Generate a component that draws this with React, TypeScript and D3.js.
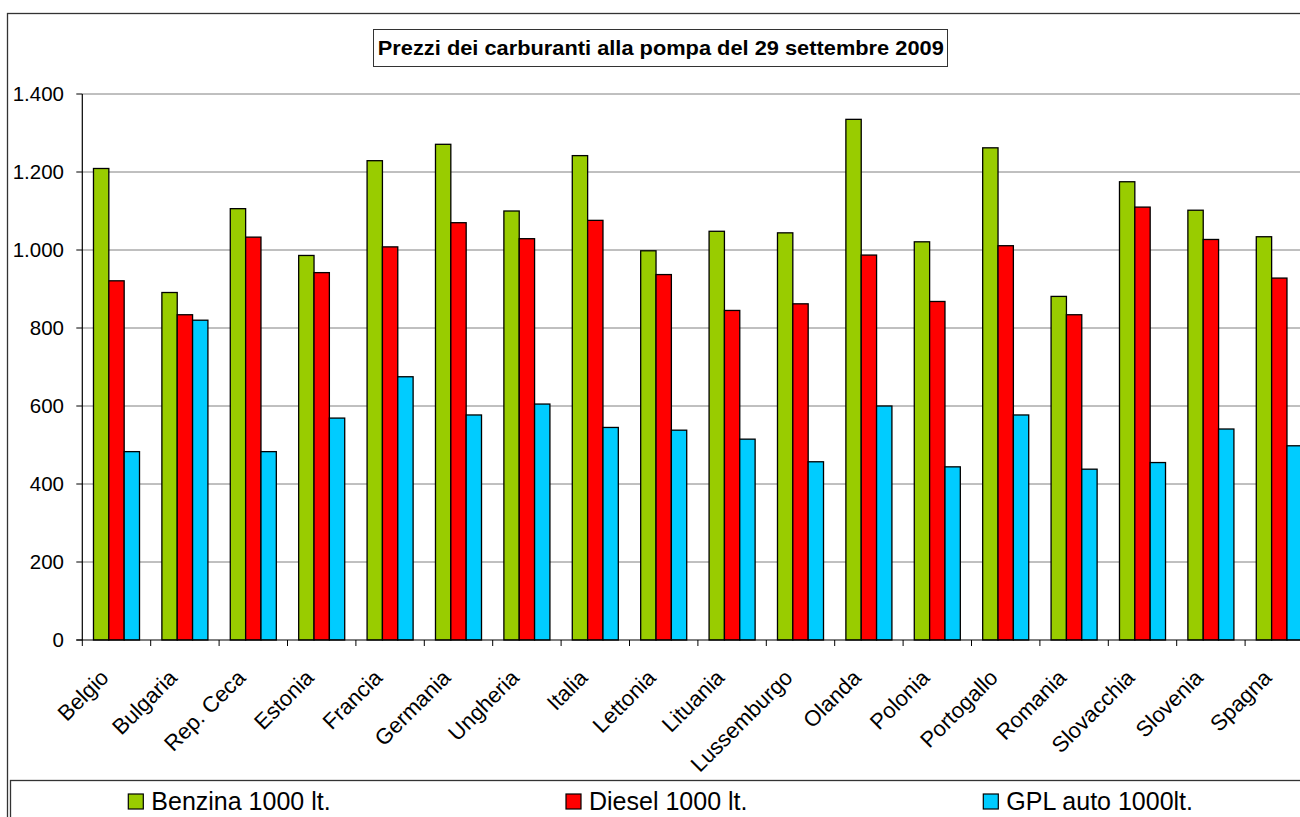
import React from "react";
import * as d3 from "d3";

const categories = ["Belgio","Bulgaria","Rep. Ceca","Estonia","Francia","Germania","Ungheria","Italia","Lettonia","Lituania","Lussemburgo","Olanda","Polonia","Portogallo","Romania","Slovacchia","Slovenia","Spagna"];
const benzina = [1209, 891, 1106, 986, 1229, 1271, 1100, 1242, 998, 1048, 1044, 1335, 1021, 1262, 881, 1175, 1102, 1034];
const diesel = [921, 834, 1033, 942, 1008, 1070, 1029, 1076, 937, 845, 862, 987, 868, 1011, 834, 1110, 1027, 928];
const gpl = [483, 820, 483, 569, 675, 577, 605, 545, 538, 515, 457, 600, 444, 577, 438, 455, 541, 498];
const seriesNames = ["Benzina 1000 lt.", "Diesel 1000 lt.", "GPL auto 1000lt."];
const seriesColors = ["#99CC00", "#FF0000", "#00CCFF"];
const yTicks = [0, 200, 400, 600, 800, 1000, 1200, 1400];
const title = "Prezzi dei carburanti alla pompa del 29 settembre 2009";

const W = 1300, H = 817;
const FONT = "'Liberation Sans', Arial, sans-serif";

export default function App() {
  const series = [benzina, diesel, gpl];
  const plotL = 82.3, step = 68.4;
  const plotR = plotL + categories.length * step;
  const y = d3.scaleLinear().domain([0, 1400]).range([640, 94]);
  const x0 = d3.scaleBand<string>().domain(categories).range([plotL, plotR]).paddingInner(0.327).paddingOuter(0.1635);
  const x1 = d3.scaleBand<string>().domain(seriesNames).range([0, x0.bandwidth()]);
  const fmt = d3.formatLocale({ decimal: ",", thousands: ".", grouping: [3], currency: ["€", ""] }).format(",d");
  const legendX = [128.3, 566, 983.3];

  return (
    <svg width={W} height={H} style={{ position: "absolute", left: 0, top: 0, background: "#fff" }} fontFamily={FONT}>
      <rect x={0} y={0} width={W} height={H} fill="#fff" />
      {/* outer chart border */}
      <rect x={7.5} y={13.5} width={W + 20} height={H + 20} fill="none" stroke="#333" strokeWidth={1.3} />
      {/* title */}
      <rect x={373.5} y={29.5} width={574} height={37} fill="#fff" stroke="#333" strokeWidth={1} />
      <text x={660.8} y={55} textAnchor="middle" fontWeight="bold" fontSize={20.5} textLength={566} lengthAdjust="spacingAndGlyphs" fill="#000">{title}</text>
      {/* gridlines */}
      {yTicks.filter(t => t > 0).map(t => (
        <line key={t} x1={plotL} x2={plotR} y1={y(t)} y2={y(t)} stroke="#808080" strokeWidth={1} />
      ))}
      {/* y ticks and labels */}
      {yTicks.map(t => (
        <g key={"yt" + t}>
          <line x1={plotL - 6} x2={plotL} y1={y(t)} y2={y(t)} stroke="#000" strokeWidth={1} />
          <text x={64} y={y(t)} dy="0.35em" textAnchor="end" fontSize={20.5} fill="#000">{fmt(t)}</text>
        </g>
      ))}
      {/* bars */}
      {categories.map((c, i) => (
        <g key={c} transform={`translate(${x0(c)},0)`}>
          {series.map((s, k) => (
            <rect key={k} x={x1(seriesNames[k])} y={y(s[i])} width={x1.bandwidth()} height={y(0) - y(s[i])}
              fill={seriesColors[k]} stroke="#000" strokeWidth={1.3} />
          ))}
        </g>
      ))}
      {/* axes */}
      <line x1={plotL} x2={plotL} y1={y(1400)} y2={y(0)} stroke="#000" strokeWidth={1.2} />
      <line x1={plotL - 6} x2={plotR} y1={y(0)} y2={y(0)} stroke="#000" strokeWidth={1.2} />
      {categories.map((c, i) => (
        <line key={"xt" + c} x1={plotL + i * step} x2={plotL + i * step} y1={y(0)} y2={y(0) + 6} stroke="#000" strokeWidth={1} />
      ))}
      {/* category labels */}
      {categories.map(c => {
        const cx = (x0(c) as number) + x0.bandwidth() / 2 - 6.5;
        return (
          <text key={"cl" + c} transform={`translate(${cx},679) rotate(-45)`} textAnchor="end" fontSize={22} fill="#000">{c}</text>
        );
      })}
      {/* legend */}
      <rect x={10.5} y={780.5} width={W + 20} height={H} fill="none" stroke="#333" strokeWidth={1.3} />
      {seriesNames.map((n, k) => (
        <g key={"lg" + n}>
          <rect x={legendX[k]} y={794} width={15} height={15} fill={seriesColors[k]} stroke="#000" strokeWidth={1.2} />
          <text x={legendX[k] + 23} y={810} fontSize={25} fill="#000">{n}</text>
        </g>
      ))}
    </svg>
  );
}
